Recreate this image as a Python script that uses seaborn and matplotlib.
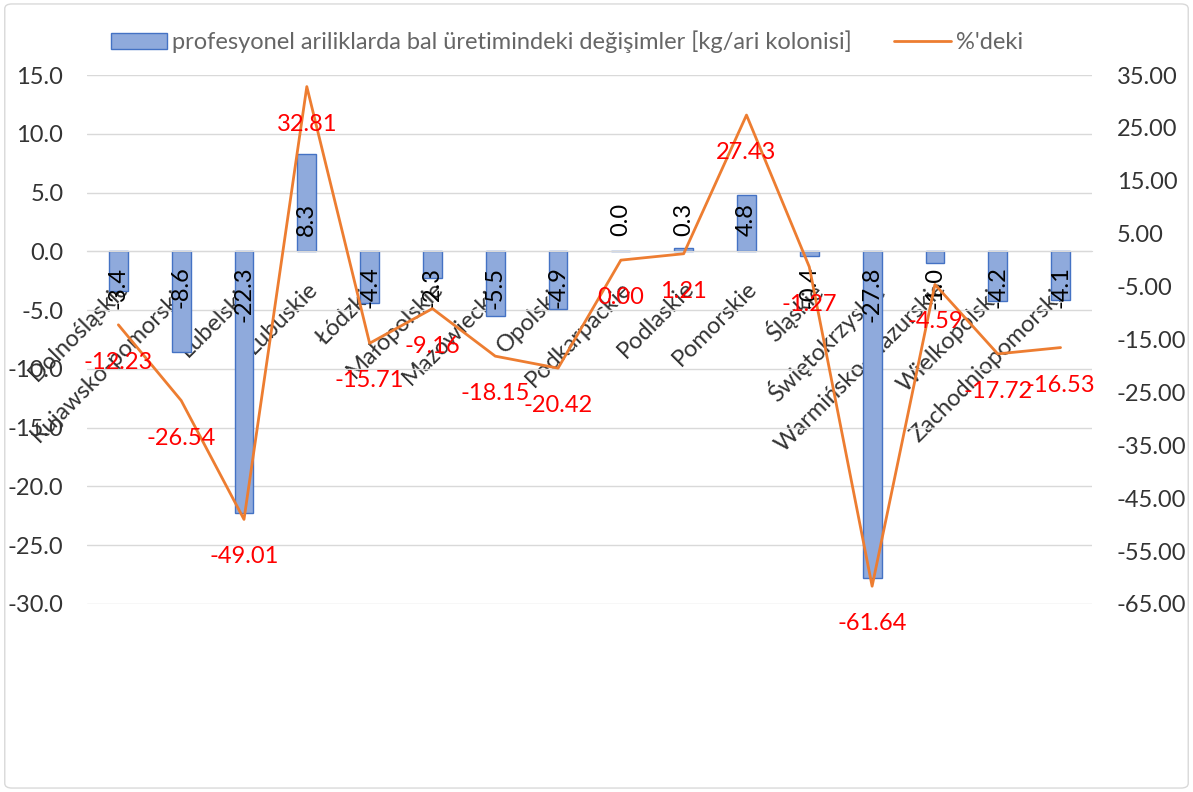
import numpy as np
import pandas as pd
import seaborn as sns
import matplotlib.pyplot as plt
from matplotlib.patches import Patch, FancyBboxPatch
from matplotlib.lines import Line2D
from matplotlib.ticker import FormatStrFormatter

# %% Data
categories = ["Dolnośląskie", "Kujawsko-pomorskie", "Lubelskie", "Lubuskie",
              "Łódzkie", "Małopolskie", "Mazowieckie", "Opolskie",
              "Podkarpackie", "Podlaskie", "Pomorskie", "Śląskie",
              "Świętokrzyskie", "Warmińsko-mazurskie", "Wielkopolskie",
              "Zachodniopomorskie"]
change_kg = [-3.4, -8.6, -22.3, 8.3, -4.4, -2.3, -5.5, -4.9,
             0.0, 0.3, 4.8, -0.4, -27.8, -1.0, -4.2, -4.1]
change_pct = [-12.23, -26.54, -49.01, 32.81, -15.71, -9.16, -18.15, -20.42,
              0.00, 1.21, 27.43, -1.27, -61.64, -4.59, -17.72, -16.53]
bar_name = "profesyonel ariliklarda bal üretimindeki değişimler [kg/ari kolonisi]"
line_name = "%'deki"

df = pd.DataFrame({"region": categories, "kg": change_kg, "pct": change_pct})

# %% Style
sns.set_style("white")
plt.rcParams['font.family'] = ['Lato', 'DejaVu Sans']
fs = 17
txt = '#333333'
bar_fc = '#8FAADC'
bar_ec = '#4472C4'
orange = '#ED7D31'

fig = plt.figure(figsize=(11.93, 7.92), dpi=100)
ax = fig.add_axes([0.0729, 0.2374, 0.8424, 0.6679])

sns.barplot(data=df, x="region", y="kg", ax=ax, color=bar_fc, width=0.3,
            edgecolor=bar_ec, linewidth=1, saturation=1)
ax.set_xlim(-0.5, len(categories) - 0.5)
ax.set_ylim(-30, 15)
ax.set_yticks(np.arange(-30, 16, 5))
ax.yaxis.set_major_formatter(FormatStrFormatter('%.1f'))
ax.set_xlabel('')
ax.set_ylabel('')
ax.set_axisbelow(True)
ax.yaxis.grid(True, color='#d9d9d9', linewidth=1)
for s in ['top', 'left', 'right']:
    ax.spines[s].set_visible(False)
ax.spines['bottom'].set_position(('data', 0))
ax.spines['bottom'].set_color('#d9d9d9')
ax.set_xticks(range(len(categories)))
ax.set_xticklabels(categories, rotation=45, ha='right',
                   rotation_mode='anchor')
ax.tick_params(axis='x', length=0, pad=19, labelsize=fs, labelcolor=txt)
ax.tick_params(axis='y', length=0, pad=17, labelsize=fs, labelcolor=txt)

# bar values, inside base
for i, v in enumerate(change_kg):
    off = 11 if v >= 0 else -11
    ax.annotate(f"{v:.1f}", xy=(i, 0), xytext=(0, off),
                textcoords='offset points', rotation=90, ha='center',
                va='bottom' if v >= 0 else 'top', fontsize=fs, color='black')

# %% Percentage line on the secondary axis
ax2 = ax.twinx()
sns.lineplot(x=np.arange(len(categories)), y=df["pct"], ax=ax2,
             color=orange, linewidth=2)
ax2.set_ylim(-65, 35)
ax2.set_yticks(np.arange(-65, 36, 10))
ax2.yaxis.set_major_formatter(FormatStrFormatter('%.2f'))
ax2.set_ylabel('')
for s in ax2.spines.values():
    s.set_visible(False)
ax2.tick_params(axis='y', length=0, pad=18, labelsize=fs, labelcolor=txt)

for i, v in enumerate(change_pct):
    ax2.annotate(f"{v:.2f}", xy=(i, v), xytext=(0, -27),
                 textcoords='offset points', ha='center', va='center',
                 fontsize=fs, color='red')

# %% Legend and frame
handles = [Patch(facecolor=bar_fc, edgecolor=bar_ec),
           Line2D([], [], color=orange, linewidth=2)]
fig.legend(handles, [bar_name, line_name], loc='center',
           bbox_to_anchor=(0.475, 0.947), ncol=2, frameon=False,
           fontsize=17, handlelength=2.4, handletextpad=0.2,
           columnspacing=1.8, labelcolor='#666666')
fig.patches.append(FancyBboxPatch((0.004, 0.005), 0.992, 0.99,
                                  boxstyle="round,pad=0,rounding_size=0.006",
                                  transform=fig.transFigure, fill=False,
                                  edgecolor='#d9d9d9', linewidth=1))

plt.savefig("out.png", dpi=100)
plt.close()
